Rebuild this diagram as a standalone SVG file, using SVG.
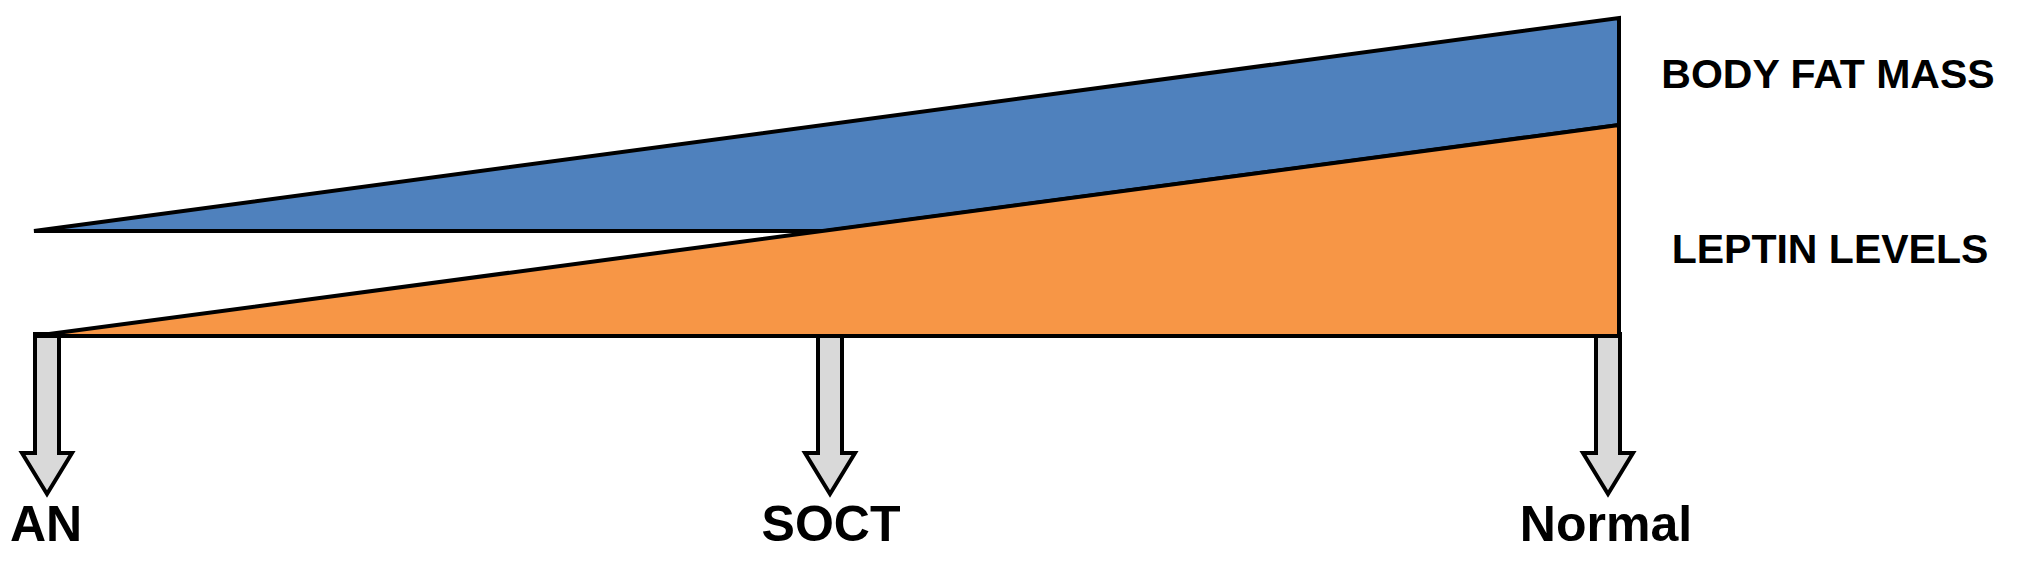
<svg xmlns="http://www.w3.org/2000/svg" width="2020" height="565" viewBox="0 0 2020 565">
<style>
.arrow{fill:#D9D9D9;stroke:#000;stroke-width:4;stroke-linejoin:miter}
.area{stroke:#000;stroke-width:4;stroke-linejoin:miter}
.lbl{font-family:"Liberation Sans",Arial,sans-serif;font-weight:bold;fill:#000;text-anchor:middle}
</style>
<rect width="2020" height="565" fill="#fff"/>
<g id="connectors">
<polygon class="arrow" points="35,334 59,334 59,453 72,453 47,494 22,453 35,453"/>
<polygon class="arrow" points="818,334 842,334 842,453 855,453 830,494 805,453 818,453"/>
<polygon class="arrow" points="1596,334 1620,334 1620,453 1633,453 1608,494 1583,453 1596,453"/>
</g>
<g id="body-fat-mass">
<polygon class="area" fill="#4F81BD" points="34,231 1619,18 1619,125 826,231"/>
</g>
<g id="leptin-levels">
<polygon class="area" fill="#F79646" points="34,336 1619,125 1619,336"/>
</g>
<g id="labels">
<text class="lbl" x="1828" y="88" font-size="41">BODY FAT MASS</text>
<text class="lbl" x="1830" y="263" font-size="41">LEPTIN LEVELS</text>
<text class="lbl" x="46" y="541" font-size="50">AN</text>
<text class="lbl" x="831" y="541" font-size="50">SOCT</text>
<text class="lbl" x="1606" y="541" font-size="50">Normal</text>
</g>
</svg>
